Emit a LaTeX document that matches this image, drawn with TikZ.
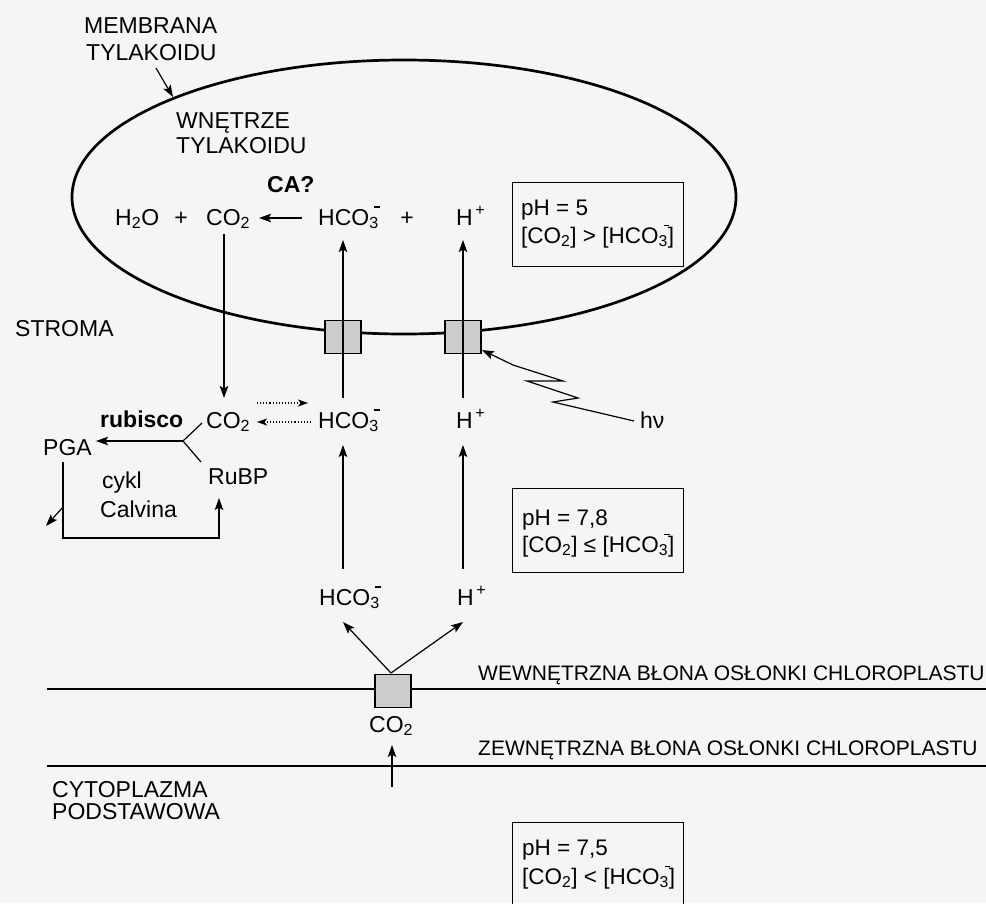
\documentclass[tikz,border=0pt]{standalone}
\usepackage{fontspec}
\setmainfont{Liberation Sans}
\usetikzlibrary{arrows.meta}
\newcommand{\hcoion}{HCO\rlap{\kern0.22em\rule[0.74em]{0.26em}{0.07em}}\textsubscript{3}}
\newcommand{\hplus}{H\textsuperscript{\,+}}
\newcommand{\cotwo}{CO\textsubscript{2}}
\begin{document}
\begin{tikzpicture}[x=1pt,y=-1pt,
  lbl/.style={inner sep=0pt, anchor=base west, font=\fontsize{23}{27}\selectfont},
  envlbl/.style={inner sep=0pt, anchor=base west, font=\fontsize{21}{25}\selectfont},
  boxtxt/.style={inner sep=0pt, anchor=base west, font=\fontsize{22.5}{26}\selectfont},
  pmark/.style={inner sep=0pt, anchor=base, font=\fontsize{23}{27}\selectfont},
  arr/.style={-{Stealth[length=12pt,width=8.5pt,inset=2.5pt]}, line width=1.2pt},
  dotarr/.style={-{Stealth[length=10pt,width=7pt,inset=2.5pt]}, line width=1.1pt, dotted},
  thin line/.style={line width=1.2pt},
  porter/.style={draw, line width=1.1pt, fill=black!20, minimum width=36pt, minimum height=33pt, inner sep=0pt},
  phbox/.style={draw, line width=1.1pt, inner sep=0pt, anchor=north west, minimum width=171pt},
  membrane/.style={line width=2.7pt}]
\useasboundingbox (0,0) rectangle (986,903);
\clip (0,0) rectangle (986,903);
\fill[black!4] (0,0) rectangle (986,903);

% thylakoid membrane
\draw[membrane] (404,197) ellipse [x radius=332pt, y radius=137pt];
% chloroplast envelope
\draw[membrane] (47,689) -- (986,689);
\draw[membrane] (47,766) -- (986,766);

% transporters
\node[porter] (sq1) at (343,337) {};
\node[porter] (sq2) at (463,337) {};
\node[porter] (sq3) at (393,691) {};

% pH boxes
\node[phbox, minimum height=84pt] (box1) at (512,182) {};
\node[phbox, minimum height=84pt] (box2) at (512,488) {};
\node[phbox, minimum height=100pt] (box3) at (512,822) {};

% labels
\node[lbl] (memb1) at (84,33) {MEMBRANA};
\node[lbl] (memb2) at (86,60) {TYLAKOIDU};
\node[lbl] (wn1) at (176,128) {WNĘTRZE};
\node[lbl] (wn2) at (176,153) {TYLAKOIDU};
\node[lbl, font=\fontsize{23}{27}\selectfont\bfseries] (ca) at (267,192) {CA?};
\node[lbl] (stroma) at (15,336) {STROMA};
\node[lbl] (cyto1) at (52,797) {CYTOPLAZMA};
\node[lbl] (cyto2) at (52,819) {PODSTAWOWA};
\node[envlbl] (wew) at (478,680) {WEWNĘTRZNA BŁONA OSŁONKI CHLOROPLASTU};
\node[envlbl] (zew) at (478,755) {ZEWNĘTRZNA BŁONA OSŁONKI CHLOROPLASTU};

% row 1 (lumen)
\node[lbl] (h2o) at (115,225) {H\textsubscript{2}O};
\node[pmark] (plus1) at (181,225) {+};
\node[lbl] (co2a) at (206,225) {\cotwo};
\node[lbl] (hcoa) at (318,225) {\hcoion};
\node[pmark] (plus2) at (407,225) {+};
\node[lbl] (ha) at (456,225) {\hplus};

% row 2 (stroma)
\node[lbl, font=\fontsize{23}{27}\selectfont\bfseries] (rub) at (100,427) {rubisco};
\node[lbl] (co2b) at (206,428) {\cotwo};
\node[lbl] (hcob) at (318,428) {\hcoion};
\node[lbl] (hb) at (456,428) {\hplus};
\node[lbl] (hnu) at (640,428) {hν};
\node[lbl] (pga) at (43,455) {PGA};
\node[lbl] (rubp) at (208,484) {RuBP};
\node[lbl] (cykl) at (102,488) {cykl};
\node[lbl] (calv) at (100,517) {Calvina};

% row 3
\node[lbl] (hcoc) at (319,605) {\hcoion};
\node[lbl] (hc) at (457,605) {\hplus};
\node[lbl] (co2c) at (369,732) {\cotwo};

% box texts
\node[boxtxt] (b1a) at (521,215) {pH = 5};
\node[boxtxt] (b1b) at (521,243) {[\cotwo] > [\hcoion]};
\node[boxtxt] (b2a) at (522,525) {pH = 7,8};
\node[boxtxt] (b2b) at (522,552) {[\cotwo] ≤ [\hcoion]};
\node[boxtxt] (b3a) at (522,855) {pH = 7,5};
\node[boxtxt] (b3b) at (522,884) {[\cotwo] < [\hcoion]};

% coordinates for connector ends
\coordinate (membTail) at (156,68);
\coordinate (membTip) at (173,97);
\coordinate (caTail) at (302,218);
\coordinate (caTip) at (259,218);
\coordinate (co2aBot) at (224,234);
\coordinate (co2bTop) at (224,398);
\coordinate (hcoaBot) at (343,240);
\coordinate (hcobTop) at (343,398);
\coordinate (haBot) at (463,240);
\coordinate (hbTop) at (463,398);
\coordinate (hcobBot) at (343,445);
\coordinate (hcocTop) at (343,569);
\coordinate (hbBot) at (463,445);
\coordinate (hcTop) at (463,569);
\coordinate (vApex) at (391,673);
\coordinate (hcocBot) at (343,622);
\coordinate (hcBot) at (463,622);
\coordinate (co2cBot) at (392,745);
\coordinate (cytoSrc) at (392,787);
\coordinate (dotR1) at (257,403);
\coordinate (dotR2) at (308,403);
\coordinate (dotL1) at (311,422);
\coordinate (dotL2) at (257,422);
\coordinate (yj) at (183,441);
\coordinate (yUp) at (202,423);
\coordinate (yDn) at (201,462);
\coordinate (pgaTip) at (96,441);
\coordinate (c1) at (63,462);
\coordinate (c2) at (63,538);
\coordinate (c3) at (219,538);
\coordinate (c4) at (219,498);
\coordinate (c5) at (63,507);
\coordinate (c6) at (46,526);
\coordinate (hnuEnd) at (634,421);
\coordinate (sq2corner) at (482,350);

% connectors
\draw[arr] (membTail) -- (membTip);
\draw[arr] (caTail) -- (caTip);
\draw[arr] (co2aBot) -- (co2bTop);
\draw[arr] (hcobTop) -- (hcoaBot);
\draw[arr] (hbTop) -- (haBot);
\draw[arr] (hcocTop) -- (hcobBot);
\draw[arr] (hcTop) -- (hbBot);
\draw[arr] (vApex) -- (hcocBot);
\draw[arr] (vApex) -- (hcBot);
\draw[arr] (cytoSrc) -- (co2cBot);
\draw[dotarr] (dotR1) -- (dotR2);
\draw[dotarr] (dotL1) -- (dotL2);
\draw[thin line] (yUp) -- (yj) -- (yDn);
\draw[arr] (yj) -- (pgaTip);
\draw[arr] (c1) -- (c2) -- (c3) -- (c4);
\draw[arr] (c5) -- (c6);
\draw[arr, line join=miter] (hnuEnd) -- (553,402) -- (578,398) -- (527,381) -- (563,381) -- (513,365) -- (sq2corner);
\end{tikzpicture}
\end{document}
